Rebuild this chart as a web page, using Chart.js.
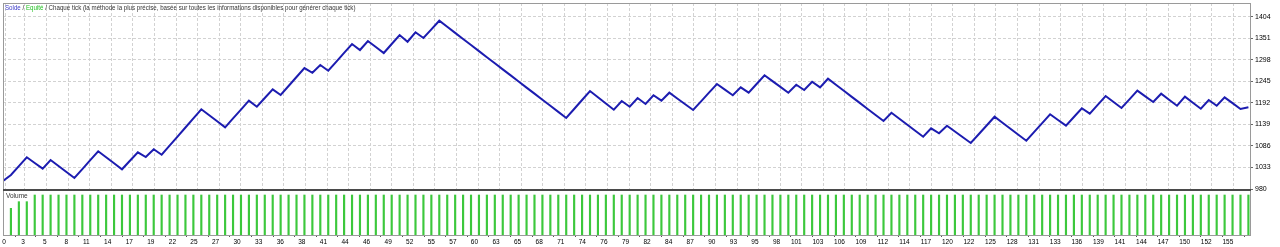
<!DOCTYPE html>
<html>
<head>
<meta charset="utf-8">
<script src="https://cdn.jsdelivr.net/npm/chart.js@4.4.1/dist/chart.umd.min.js"></script>
<style>
    html, body { margin: 0; padding: 0; background: #fff; }
    #wrap { position: relative; width: 1280px; height: 247px; overflow: hidden; background: #fff; font-family: 'Liberation Sans', Arial, sans-serif; }
    #balanceChart { position: absolute; left: 0; top: 0; }
    #volumeChart { position: absolute; left: 0; top: 189px; }
    .frame { position: absolute; left: 3px; top: 3px; width: 1248px; height: 233px; border: 1px solid #9a9a9a; box-sizing: border-box; pointer-events: none; }
    .separator { position: absolute; left: 3px; top: 189px; width: 1248px; height: 2px; background: #4a4a4a; }
    .title { position: absolute; left: 5px; top: 3px; font-size: 6.5px; line-height: 10px; color: #333; white-space: nowrap; transform: scaleX(0.95); transform-origin: 0 0; }
    .title .solde { color: #3a3ac8; }
    .title .equite { color: #22c022; }
    .vol-label { position: absolute; left: 6px; top: 191px; font-size: 6.5px; line-height: 9px; color: #333; }
</style>
</head>
<body>
<div id="wrap">
    <canvas id="balanceChart" width="1280" height="200"></canvas>
    <canvas id="volumeChart" width="1280" height="58"></canvas>
    <div class="frame"></div>
    <div class="separator"></div>
    <div class="title"><span class="solde">Solde</span> / <span class="equite">Equité</span> / Chaque tick (la méthode la plus précise, basée sur toutes les informations disponibles pour générer chaque tick)</div>
    <div class="vol-label">Volume</div>
</div>
<script>
// balance after each trade (trade 0 = initial deposit)
const balance = [
    1000, 1014.4, 1036.2, 1058.0, 1044.0, 1030.0, 1051.4, 1036.6, 1021.8, 1007.1,
    1029.0, 1050.9, 1072.8, 1058.0, 1043.3, 1028.5, 1049.4, 1070.3, 1058.7, 1077.7,
    1064.4, 1086.7, 1109.0, 1131.4, 1153.7, 1176.1, 1161.3, 1146.6, 1131.8, 1153.6,
    1175.5, 1197.3, 1182.5, 1203.9, 1225.3, 1211.3, 1233.4, 1255.6, 1277.7, 1266.0,
    1285.1, 1271.1, 1293.0, 1314.9, 1336.8, 1322.0, 1344.2, 1329.4, 1314.6, 1336.8,
    1358.9, 1342.4, 1365.6, 1351.6, 1372.9, 1394.1, 1379.1, 1364.2, 1349.2, 1334.3,
    1319.3, 1304.3, 1289.4, 1274.4, 1259.5, 1244.5, 1229.5, 1214.6, 1199.6, 1184.7,
    1169.7, 1154.7, 1176.8, 1199.0, 1221.1, 1205.8, 1190.4, 1175.1, 1196.5, 1182.5,
    1203.9, 1189.2, 1210.6, 1197.3, 1217.0, 1202.8, 1188.6, 1174.4, 1195.7, 1217.1,
    1238.4, 1224.5, 1210.6, 1230.2, 1217.0, 1238.4, 1259.8, 1245.5, 1231.3, 1217.0,
    1236.6, 1223.6, 1244.0, 1230.2, 1251.4, 1236.5, 1221.6, 1206.8, 1191.9, 1177.0,
    1162.2, 1147.3, 1167.7, 1153.0, 1138.2, 1123.5, 1108.7, 1129.4, 1117.1, 1135.8,
    1121.6, 1107.4, 1093.2, 1114.8, 1136.3, 1157.9, 1143.1, 1128.3, 1113.6, 1098.8,
    1120.5, 1142.2, 1163.8, 1149.8, 1135.8, 1157.2, 1178.6, 1165.3, 1187.1, 1208.8,
    1194.1, 1179.3, 1200.6, 1221.9, 1208.0, 1194.1, 1214.5, 1199.8, 1185.0, 1207.1,
    1192.4, 1177.6, 1199.0, 1185.0, 1205.6, 1191.3, 1176.9, 1181.0
];

// lot size of each trade (no trade at index 0)
const volume = [
    null, 0.2, 0.25, 0.25,
    0.3, 0.3, 0.3, 0.3, 0.3, 0.3, 0.3, 0.3, 0.3, 0.3, 0.3, 0.3, 0.3, 0.3,
    0.3, 0.3, 0.3, 0.3, 0.3, 0.3, 0.3, 0.3, 0.3, 0.3, 0.3, 0.3, 0.3, 0.3,
    0.3, 0.3, 0.3, 0.3, 0.3, 0.3, 0.3, 0.3, 0.3, 0.3, 0.3, 0.3, 0.3, 0.3,
    0.3, 0.3, 0.3, 0.3, 0.3, 0.3, 0.3, 0.3, 0.3, 0.3, 0.3, 0.3, 0.3, 0.3,
    0.3, 0.3, 0.3, 0.3, 0.3, 0.3, 0.3, 0.3, 0.3, 0.3, 0.3, 0.3, 0.3, 0.3,
    0.3, 0.3, 0.3, 0.3, 0.3, 0.3, 0.3, 0.3, 0.3, 0.3, 0.3, 0.3, 0.3, 0.3,
    0.3, 0.3, 0.3, 0.3, 0.3, 0.3, 0.3, 0.3, 0.3, 0.3, 0.3, 0.3, 0.3, 0.3,
    0.3, 0.3, 0.3, 0.3, 0.3, 0.3, 0.3, 0.3, 0.3, 0.3, 0.3, 0.3, 0.3, 0.3,
    0.3, 0.3, 0.3, 0.3, 0.3, 0.3, 0.3, 0.3, 0.3, 0.3, 0.3, 0.3, 0.3, 0.3,
    0.3, 0.3, 0.3, 0.3, 0.3, 0.3, 0.3, 0.3, 0.3, 0.3, 0.3, 0.3, 0.3, 0.3,
    0.3, 0.3, 0.3, 0.3, 0.3, 0.3, 0.3, 0.3, 0.3, 0.3, 0.3, 0.3, 0.3, 0.3
];

const yTicks = [980, 1033, 1086, 1139, 1192, 1245, 1298, 1351, 1404];

const xTickLabels = [
    0, 3, 5, 8, 11, 14, 17, 19, 22, 25, 27, 30, 33, 36, 38, 41, 44, 46, 49, 52,
    55, 57, 60, 63, 65, 68, 71, 74, 76, 79, 82, 84, 87, 90, 93, 95, 98, 101, 103, 106,
    109, 112, 114, 117, 120, 122, 125, 128, 131, 133, 136, 139, 141, 144, 147, 150, 152, 155
];

// --- layout helpers (not data) ---
const X_MAX = 157.2;
const GRID_STEP = 2.72;      // trades between vertical grid lines
const FONT = "'Liberation Sans', Arial, sans-serif";
const GRID_COLOR = '#d2d2d2';

function gridPos(k) {
    return k === 0 ? 0.35 : 0.05 + k * GRID_STEP;
}

// --- 1. Balance line chart ---
new Chart(document.getElementById('balanceChart'), {
    type: 'line',
    data: {
        datasets: [{
            label: 'Solde',
            data: balance.map((v, i) => ({ x: i, y: v })),
            borderColor: '#1c1cb0',
            borderWidth: 2,
            pointRadius: 0,
            tension: 0,
            fill: false
        }]
    },
    options: {
        responsive: false,
        animation: false,
        events: [],
        layout: { padding: { left: 3, top: 3, right: 0, bottom: 11 } },
        plugins: { legend: { display: false }, tooltip: { enabled: false } },
        scales: {
            x: {
                type: 'linear',
                min: 0,
                max: X_MAX,
                afterBuildTicks: function(scale) {
                    scale.ticks = xTickLabels.map((t, k) => ({ value: gridPos(k) }));
                },
                afterFit: function(scale) { scale.height = 0; scale.paddingLeft = 0; scale.paddingRight = 0; },
                ticks: { display: false },
                grid: { color: GRID_COLOR, drawTicks: false },
                border: { display: false, dash: [3, 2] }
            },
            y: {
                position: 'right',
                min: 980,
                max: 1437.7,
                afterBuildTicks: function(scale) {
                    scale.ticks = yTicks.map(v => ({ value: v }));
                },
                afterFit: function(scale) { scale.width = 30; scale.paddingTop = 0; scale.paddingBottom = 0; },
                ticks: {
                    color: '#000',
                    padding: 2,
                    font: { size: 7, family: FONT },
                    callback: function(value) { return String(value); }
                },
                grid: { color: GRID_COLOR, tickLength: 3, tickColor: '#666' },
                border: { display: false, dash: [3, 2] }
            }
        }
    }
});

// --- 2. Volume bars ---
new Chart(document.getElementById('volumeChart'), {
    type: 'bar',
    data: {
        datasets: [{
            label: 'Volume',
            data: volume.map((v, i) => ({ x: i, y: v })),
            backgroundColor: '#3cc83c',
            barThickness: 1.5,
            borderWidth: 0
        }]
    },
    options: {
        responsive: false,
        animation: false,
        events: [],
        layout: { padding: { left: 3, top: 2, right: 30, bottom: 0 } },
        plugins: { legend: { display: false }, tooltip: { enabled: false } },
        scales: {
            x: {
                type: 'linear',
                min: 0,
                max: X_MAX,
                offset: false,
                afterBuildTicks: function(scale) {
                    scale.ticks = xTickLabels.map((t, k) => ({ value: gridPos(k) }));
                },
                afterFit: function(scale) { scale.height = 12; scale.paddingLeft = 0; scale.paddingRight = 0; },
                ticks: {
                    autoSkip: false,
                    maxRotation: 0,
                    minRotation: 0,
                    align: 'end',
                    padding: 1,
                    color: '#000',
                    font: { size: 6.5, family: FONT },
                    callback: function(value, index) { return String(xTickLabels[index]); }
                },
                grid: { drawOnChartArea: false, drawTicks: true, tickLength: 2, color: '#555' },
                border: { display: false }
            },
            y: { display: false, min: 0, max: 0.33 }
        }
    }
});
</script>
</body>
</html>
